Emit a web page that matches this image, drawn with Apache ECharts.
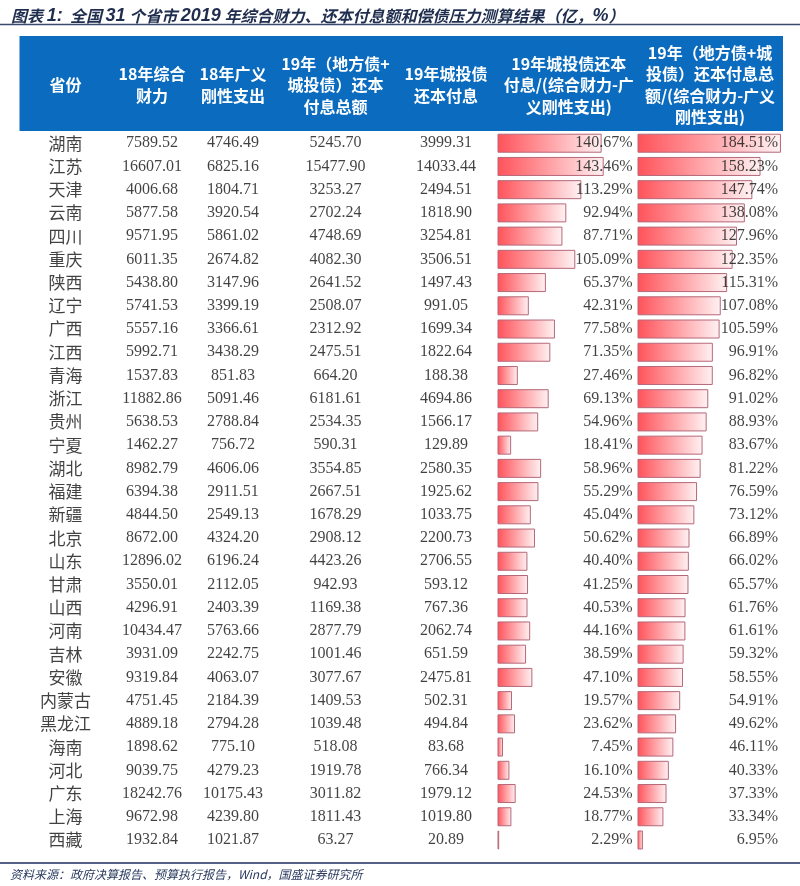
<!DOCTYPE html>
<html>
<head>
<meta charset="utf-8">
<script src="https://cdn.jsdelivr.net/npm/echarts@6/dist/echarts.min.js"></script>
<style>html,body{margin:0;padding:0;background:#fff;}#c{width:800px;height:886px;}</style>
</head>
<body>
<div id="c"></div>
<script>
var provinces = ['湖南','江苏','天津','云南','四川','重庆','陕西','辽宁','广西','江西','青海','浙江','贵州','宁夏','湖北','福建','新疆','北京','山东','甘肃','山西','河南','吉林','安徽','内蒙古','黑龙江','海南','河北','广东','上海','西藏'];
var caiLi = [7589.52,16607.01,4006.68,5877.58,9571.95,6011.35,5438.80,5741.53,5557.16,5992.71,1537.83,11882.86,5638.53,1462.27,8982.79,6394.38,4844.50,8672.00,12896.02,3550.01,4296.91,10434.47,3931.09,9319.84,4751.45,4889.18,1898.62,9039.75,18242.76,9672.98,1932.84];
var gangXing = [4746.49,6825.16,1804.71,3920.54,5861.02,2674.82,3147.96,3399.19,3366.61,3438.29,851.83,5091.46,2788.84,756.72,4606.06,2911.51,2549.13,4324.20,6196.24,2112.05,2403.39,5763.66,2242.75,4063.07,2184.39,2794.28,775.10,4279.23,10175.43,4239.80,1021.87];
var zongE = [5245.70,15477.90,3253.27,2702.24,4748.69,4082.30,2641.52,2508.07,2312.92,2475.51,664.20,6181.61,2534.35,590.31,3554.85,2667.51,1678.29,2908.12,4423.26,942.93,1169.38,2877.79,1001.46,3077.67,1409.53,1039.48,518.08,1919.78,3011.82,1811.43,63.27];
var chengTou = [3999.31,14033.44,2494.51,1818.90,3254.81,3506.51,1497.43,991.05,1699.34,1822.64,188.38,4694.86,1566.17,129.89,2580.35,1925.62,1033.75,2200.73,2706.55,593.12,767.36,2062.74,651.59,2475.81,502.31,494.84,83.68,766.34,1979.12,1019.80,20.89];
var ratioCT = [140.67,143.46,113.29,92.94,87.71,105.09,65.37,42.31,77.58,71.35,27.46,69.13,54.96,18.41,58.96,55.29,45.04,50.62,40.40,41.25,40.53,44.16,38.59,47.10,19.57,23.62,7.45,16.10,24.53,18.77,2.29];
var ratioAll = [184.51,158.23,147.74,138.08,127.96,122.35,115.31,107.08,105.59,96.91,96.82,91.02,88.93,83.67,81.22,76.59,73.12,66.89,66.02,65.57,61.76,61.61,59.32,58.55,54.91,49.62,46.11,40.33,37.33,33.34,6.95];
var headers = ['省份','18年综合\n财力','18年广义\n刚性支出','19年（地方债+\n城投债）还本\n付息总额','19年城投债\n还本付息','19年城投债还本\n付息/(综合财力-广\n义刚性支出)','19年（地方债+城\n投债）还本付息总\n额/(综合财力-广义\n刚性支出)'];

var chart = echarts.init(document.getElementById('c'));
var TOP = 131.6, H = 720;
var cols = [
  {left:20, width:91},
  {left:111, width:82},
  {left:193, width:80},
  {left:273, width:125},
  {left:398, width:96},
  {left:497.5, width:142.5, max:192.5, dist:7},
  {left:637.5, width:145, max:186.5, dist:4}
];
var grids = [], xAxes = [], yAxes = [], series = [], graphics = [];
cols.forEach(function(c, k){
  grids.push({left:c.left, width:c.width, top:TOP, height:H, containLabel:false});
  xAxes.push({type:'value', gridIndex:k, min:0, max:(c.max||1), show:false});
  yAxes.push({type:'category', gridIndex:k, data:provinces, inverse:true, show:false});
});
var numCols = [null, caiLi, gangXing, zongE, chengTou];
for (var k = 0; k < 5; k++) {
  (function(k){
    var data = provinces.map(function(p, i){ return [0.5, p, k === 0 ? p : numCols[k][i]]; });
    series.push({
      type:'scatter', xAxisIndex:k, yAxisIndex:k, data:data, symbolSize:1, silent:true,
      itemStyle:{color:'rgba(0,0,0,0)'},
      label:{show:true, position:'inside',
        fontFamily: k === 0 ? 'Noto Sans CJK SC' : 'Liberation Serif',
        fontSize: k === 0 ? 17 : 16, color:'#111',
        formatter:function(p){ return k === 0 ? p.value[2] : p.value[2].toFixed(2); }}
    });
  })(k);
}
var barGrad = new echarts.graphic.LinearGradient(0,0,1,0,[{offset:0,color:'#ff5259'},{offset:1,color:'#fff2f3'}]);
[[5, ratioCT],[6, ratioAll]].forEach(function(d){
  var k = d[0], vals = d[1], c = cols[k];
  series.push({
    type:'bar', xAxisIndex:k, yAxisIndex:k, data:vals, barWidth:19, silent:true, z:2,
    itemStyle:{color:barGrad, borderColor:'#b5687a', borderWidth:1}
  });
  series.push({
    type:'scatter', xAxisIndex:k, yAxisIndex:k, symbolSize:1, silent:true, z:5,
    itemStyle:{color:'rgba(0,0,0,0)'},
    data: provinces.map(function(p,i){ return [c.max, p, vals[i]]; }),
    label:{show:true, position:'left', distance:c.dist, fontFamily:'Liberation Serif', fontSize:16, color:'#111',
      formatter:function(p){ return p.value[2].toFixed(2) + '%'; }}
  });
});

// header
graphics.push({type:'rect', shape:{x:19.5, y:36, width:763.5, height:95}, style:{fill:'#0b6cbf'}, z:0});
cols.forEach(function(c, k){
  graphics.push({type:'text', x:c.left + c.width/2, y:85, z:1,
    style:{text:headers[k], fill:'#fff', font:'bold 16px "Noto Sans CJK SC"', textAlign:'center', textVerticalAlign:'middle', lineHeight:21.5}});
});
// title line & footer
graphics.push({type:'line', shape:{x1:0, y1:24.5, x2:800, y2:24.5}, style:{stroke:'#3c4a6e', lineWidth:1.5}});
graphics.push({type:'line', shape:{x1:0, y1:863, x2:800, y2:863}, style:{stroke:'#1b2f5c', lineWidth:1.5}});
graphics.push({type:'text', x:10, y:874, style:{text:'资料来源：政府决算报告、预算执行报告，Wind，国盛证券研究所', fill:'#2a3a60', font:'italic 12px "Noto Sans CJK SC"', textVerticalAlign:'middle'}});

chart.setOption({
  animation:false,
  title:{left:6, top:2,
    text:'{i|图表 }{b|1:}{i|  全国 }{b|31}{i| 个省市 }{b|2019}{i| 年综合财力、还本付息额和偿债压力测算结果（亿，}{b|%}{i|）}',
    textStyle:{rich:{
      i:{fontFamily:'Noto Sans CJK SC', fontStyle:'italic', fontSize:16, color:'#1f2d4f'},
      b:{fontFamily:'Liberation Sans', fontStyle:'italic', fontWeight:'bold', fontSize:18, color:'#1f2d4f'}
    }}},
  grid:grids, xAxis:xAxes, yAxis:yAxes, series:series, graphic:graphics
});
</script>
</body>
</html>
